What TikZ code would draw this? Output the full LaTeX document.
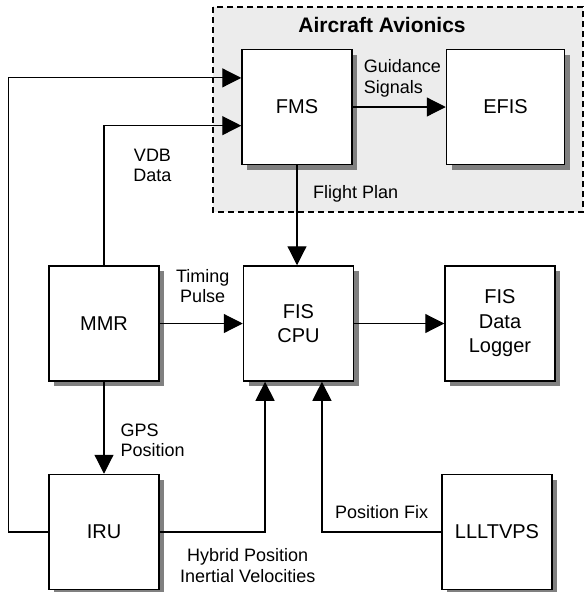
\documentclass[tikz,border=0pt]{standalone}
\usepackage{fontspec}
\setmainfont{Liberation Sans}
\usepackage{tikz}
\usetikzlibrary{arrows.meta}
\usetikzlibrary{positioning}
\usetikzlibrary{shadows}
\usetikzlibrary{calc}
\tikzset{
  bloco/.style={draw, line width=1.5pt, fill=white, align=center, inner sep=0pt,
    minimum width=#1, minimum height=115pt, font=\fontsize{20}{24.5}\selectfont,
    drop shadow={shadow xshift=5pt, shadow yshift=-5pt, fill=black!50, opacity=1}},
  bloco/.default=110pt,
  rotulo/.style={inner sep=0pt, font=\fontsize{18}{20.5}\selectfont},
  fluxo/.style={-{Triangle[length=19pt, width=19pt]}, line width=1.2pt},
  grupo/.style={fill=gray!15, draw, line width=1.3pt, dash pattern=on 6pt off 4pt},
}
\begin{document}
\begin{tikzpicture}[x=1pt, y=1pt]
  \useasboundingbox (0,0) rectangle (585,-592);
  % aircraft avionics area
  \draw[grupo] (213,-7) rectangle (583,-212);
  \node[font=\fontsize{21}{24}\selectfont\bfseries, inner sep=0pt] (titulo) at (382,-25) {Aircraft Avionics};
  % blocks
  \node[bloco] (cpu) at (298.5,-323.5) {FIS\\CPU};
  \node[bloco, left=83pt of cpu] (mmr) {MMR};
  \node[bloco, right=90pt of cpu] (logger) {FIS\\Data\\Logger};
  \node[bloco, above=100pt of cpu, xshift=-1.5pt] (fms) {FMS};
  \node[bloco=118pt, right=93pt of fms] (efis) {EFIS};
  \node[bloco, below=92pt of mmr] (iru) {IRU};
  \node[bloco] (lll) at ([xshift=-3pt]logger |- iru) {LLLTVPS};
  % entry points
  \coordinate (fmsin1) at ($(fms.north west)!0.25!(fms.south west)$);
  \coordinate (fmsin2) at ($(fms.north west)!0.66!(fms.south west)$);
  \coordinate (cpuin1) at ($(cpu.south west)!0.2!(cpu.south east)$);
  \coordinate (cpuin2) at ($(cpu.south west)!0.71!(cpu.south east)$);
  % connectors
  \draw[fluxo] (iru.west) -- ++(-40pt,0) |- (fmsin1);
  \draw[fluxo] (mmr.north) |- (fmsin2);
  \draw[fluxo] (fms.east) -- (efis.west);
  \draw[fluxo] (fms.south) -- (fms.south |- cpu.north);
  \draw[fluxo] (mmr.east) -- (cpu.west);
  \draw[fluxo] (cpu.east) -- (logger.west);
  \draw[fluxo] (mmr.south) -- (iru.north);
  \draw[fluxo] (iru.east) -| (cpuin1);
  \draw[fluxo] (lll.west) -| (cpuin2);
  % labels
  \node[rotulo, anchor=west, align=left] (guia) at ([xshift=11pt, yshift=28.5pt]fms.east) {Guidance\\Signals};
  \node[rotulo, anchor=west] (plano) at ([xshift=16pt, yshift=-29pt]fms.south) {Flight Plan};
  \node[rotulo, align=center] (vdb) at ([xshift=48.5pt, yshift=100pt]mmr.north) {VDB\\Data};
  \node[rotulo, align=center] (pulso) at ([xshift=43pt, yshift=37.5pt]mmr.east) {Timing\\Pulse};
  \node[rotulo, anchor=west, align=left] (gps) at ([xshift=16.5pt, yshift=-58.5pt]mmr.south) {GPS\\Position};
  \node[rotulo, align=center] (hibrido) at ([xshift=88pt, yshift=-33.5pt]iru.east) {Hybrid Position\\Inertial Velocities};
  \node[rotulo, anchor=east] (fix) at ([xshift=-13pt, yshift=19.5pt]lll.west) {Position Fix};
\end{tikzpicture}
\end{document}
